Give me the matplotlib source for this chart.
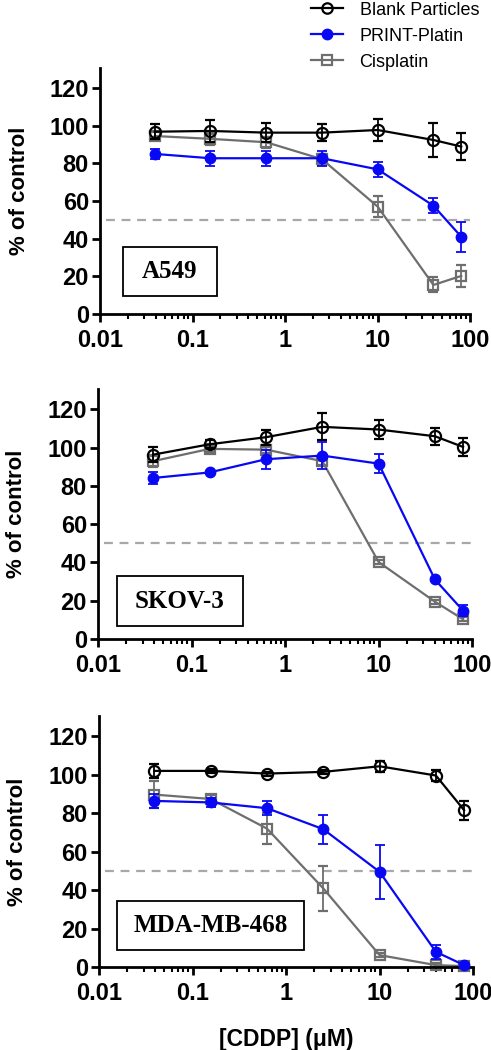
import matplotlib.pyplot as plt
from matplotlib.patches import Rectangle
from matplotlib.lines import Line2D
from matplotlib.ticker import LogLocator, NullFormatter, FixedLocator, FixedFormatter

plt.rcParams['font.family'] = ['Liberation Sans', 'DejaVu Sans']

conc = [0.039, 0.156, 0.625, 2.5, 10, 40, 80]
cell_lines = ['A549', 'SKOV-3', 'MDA-MB-468']

# mean and SD per panel
blank = [
    [96.8, 97.2, 96.3, 96.3, 97.7, 92.4, 88.9],
    [96.3, 101.7, 105.4, 110.8, 109.4, 105.9, 100.3],
    [102.0, 102.0, 100.6, 101.5, 104.4, 99.6, 81.6],
]
blank_err = [
    [4, 6, 5, 4.5, 6, 9, 7],
    [4, 2, 4, 7, 5, 4.5, 4.5],
    [3.5, 1, 1, 1, 3, 3, 5],
]
prnt = [
    [85.0, 82.7, 82.7, 82.7, 76.8, 57.5, 41.0],
    [84.1, 87.0, 93.9, 95.8, 91.6, 31.1, 14.8],
    [86.4, 85.6, 82.6, 71.7, 49.5, 7.9, 1.0],
]
prnt_err = [
    [2.5, 4, 4, 4, 4, 4, 8],
    [3, 1, 5, 7, 5, 1, 3],
    [3.5, 2.5, 3.5, 7.5, 14, 3.5, 1],
]
cis = [
    [94.5, 93.0, 91.2, 82.2, 57.0, 15.4, 20.2],
    [92.9, 99.3, 98.9, 92.9, 40.2, 19.5, 10.3],
    [89.7, 87.4, 72.0, 40.9, 6.2, 1.0, 0.5],
]
cis_err = [
    [2, 3, 3, 3, 5.5, 4, 6],
    [3, 1.5, 1.5, 2, 1, 1, 1],
    [7, 2, 8, 11.5, 1, 1, 1],
]

BLUE = '#0808f5'
GREY = '#6e6e6e'

fig = plt.figure(figsize=(4.91, 10.5), dpi=100)
axes_pos = [
    [0.2037, 0.701, 0.754, 0.234],
    [0.1996, 0.3914, 0.762, 0.238],
    [0.2016, 0.079, 0.762, 0.239],
]
boxes = [
    (0.062, 0.073, 0.254, 0.199),
    (0.050, 0.052, 0.337, 0.200),
    (0.047, 0.068, 0.502, 0.195),
]

for i, pos in enumerate(axes_pos):
    ax = fig.add_axes(pos)
    ax.set_xscale('log')
    ax.set_xlim(0.01, 100)
    ax.set_ylim(0, 130.5)

    ax.plot([0.0115, 100], [50, 50], color='#a8a8a8', lw=1.6,
            dashes=(4, 3), zorder=1, clip_on=False)

    kw = dict(capsize=3.5, elinewidth=1.3, capthick=1.3, lw=1.6, clip_on=False)
    ax.errorbar(conc, cis[i], yerr=cis_err[i], color=GREY, marker='s', ms=7.5,
                mfc='none', mew=1.6, zorder=2, **kw)
    ax.errorbar(conc, prnt[i], yerr=prnt_err[i], color=BLUE, marker='o', ms=7.5,
                mfc=BLUE, zorder=3, **kw)
    ax.errorbar(conc, blank[i], yerr=blank_err[i], color='black', marker='o', ms=8,
                mfc='none', mew=1.6, zorder=4, **kw)

    for s in ['top', 'right']:
        ax.spines[s].set_visible(False)
    for s in ['left', 'bottom']:
        ax.spines[s].set_linewidth(2)

    ax.set_yticks([0, 20, 40, 60, 80, 100, 120])
    ax.xaxis.set_major_locator(FixedLocator([0.01, 0.1, 1, 10, 100]))
    ax.xaxis.set_major_formatter(FixedFormatter(['0.01', '0.1', '1', '10', '100']))
    ax.xaxis.set_minor_locator(LogLocator(base=10, subs=range(2, 10)))
    ax.xaxis.set_minor_formatter(NullFormatter())
    ax.tick_params(which='major', length=6, width=2, labelsize=17)
    ax.tick_params(axis='y', which='major', pad=2)
    ax.tick_params(axis='x', which='major', pad=5)
    ax.tick_params(which='minor', length=3.5, width=1.5)
    for lab in ax.get_xticklabels() + ax.get_yticklabels():
        lab.set_fontweight('bold')

    ax.set_ylabel('% of control', fontsize=16, fontweight='bold')
    ax.yaxis.set_label_coords(-0.19, 0.5)

    bx, by, bw, bh = boxes[i]
    ax.add_patch(Rectangle((bx, by), bw, bh, transform=ax.transAxes,
                           fill=False, ec='black', lw=1.3, zorder=5))
    ax.text(bx + bw / 2, by + bh / 2, cell_lines[i], transform=ax.transAxes,
            ha='center', va='center', fontsize=18, fontweight='bold',
            family='Liberation Serif', zorder=6)

    if i == 2:
        ax.set_xlabel('[CDDP] (\u03bcM)', fontsize=16.5, fontweight='bold', labelpad=16)

handles = [
    Line2D([], [], color='black', marker='o', mfc='none', ms=7.5, lw=1.6, mew=1.6),
    Line2D([], [], color=BLUE, marker='o', mfc=BLUE, ms=7.5, lw=1.6),
    Line2D([], [], color=GREY, marker='s', mfc='none', ms=7.5, lw=1.6, mew=1.6),
]
fig.legend(handles, ['Blank Particles', 'PRINT-Platin', 'Cisplatin'],
           loc='upper left', bbox_to_anchor=(0.6, 1.014), frameon=False,
           fontsize=13, handlelength=1.8, handletextpad=0.9, labelspacing=0.5)

fig.savefig('out.png', dpi=100)
